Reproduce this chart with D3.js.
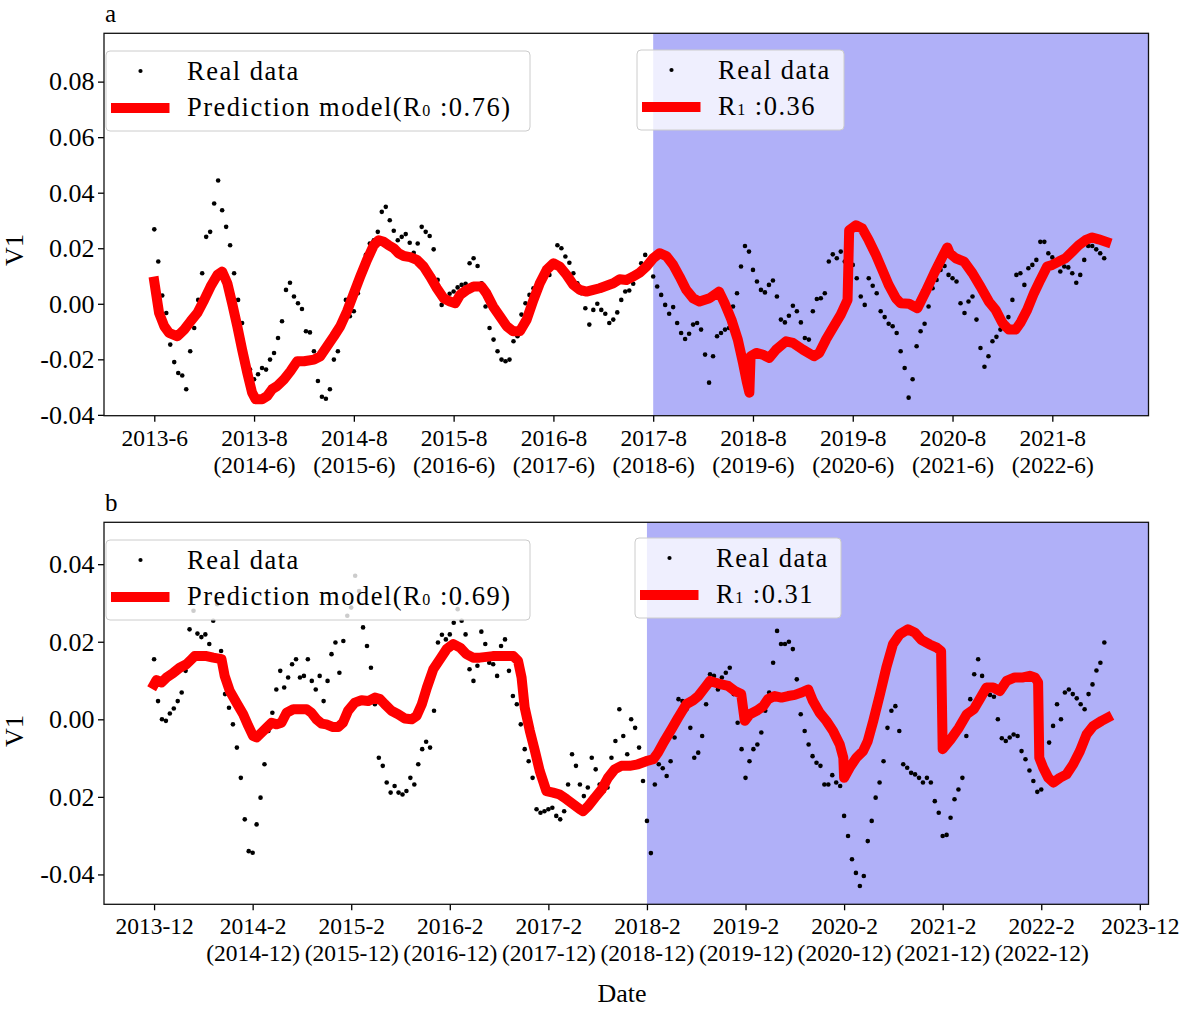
<!DOCTYPE html>
<html>
<head>
<meta charset="utf-8">
<script src="https://cdn.jsdelivr.net/npm/d3@7"></script>
<style>
body{margin:0;background:#fff;}
svg text{font-family:"Liberation Serif","Times New Roman",serif;fill:#000;}
</style>
</head>
<body>
<div id="container"></div>
<script>
// panel a : weekly real values, index 0 = first tick
var realA = [0.0268,0.0152,0.003,-0.0033,-0.0147,-0.021,-0.0249,-0.0258,-0.0308,-0.0171,
  -0.0087,0.0014,0.011,0.0241,0.0259,0.0361,0.0444,0.0337,0.0277,0.0211,
  0.011,0.0014,-0.0069,-0.0201,-0.0237,-0.0272,-0.0254,-0.0231,-0.0237,-0.0201,
  -0.0177,-0.0123,-0.0063,0.005,0.0076,0.0026,0.0002,-0.0019,-0.0099,-0.0103,
  -0.0171,-0.0278,-0.0335,-0.0342,-0.0308,-0.0201,-0.0171,-0.0075,0.0014,-0.0045,
  -0.0027,0.0038,0.0104,0.0176,0.0217,0.0229,0.0259,0.0331,0.0349,0.0301,
  0.0263,0.0229,0.0241,0.0251,0.022,0.0184,0.0217,0.0277,0.0259,0.0244,
  0.0196,0.0086,-0.0004,0.0014,0.0036,0.0044,0.0059,0.0068,0.0072,0.0146,
  0.0164,0.0136,0.0074,-0.001,-0.0087,-0.0129,-0.0171,-0.0201,-0.0207,-0.0201,
  -0.0135,-0.0117,-0.0039,0.0002,0.0032,0.0056,0.0074,0.0086,0.0098,0.0104,
  0.0134,0.0211,0.02,0.017,0.0148,0.011,0.0074,0.0038,-0.0016,-0.0075,
  -0.0022,0,-0.0022,-0.0036,-0.0069,-0.0057,-0.0031,0.0014,0.0044,0.0048,
  0.0072,0.0104,0.0146,0.0176,0.0152,0.0098,0.0062,0.0032,-0.0004,-0.0036,
  -0.0012,-0.0069,-0.0105,-0.0127,-0.0108,-0.0075,-0.0069,-0.0093,-0.0183,-0.0284,
  -0.0189,-0.0117,-0.0105,-0.0093,-0.0087,-0.001,0.0038,0.0134,0.0208,0.0188,
  0.0122,0.008,0.005,0.0041,0.0068,0.0084,0.0026,-0.0057,-0.0067,-0.0043,
  -0.0007,-0.0027,-0.0067,-0.0123,-0.0129,-0.0027,0.0017,0.002,0.0038,0.0152,
  0.0178,0.0164,0.0188,0.0152,0.0146,0.014,0.0092,0.0026,-0.0004,0.0092,
  0.0065,0.0038,-0.0027,-0.0048,-0.0072,-0.0081,-0.0105,-0.0171,-0.0231,-0.0338,
  -0.0272,-0.0153,-0.0099,-0.0072,-0.001,0.0056,0.0086,0.0122,0.0136,0.0104,
  0.0092,0.008,0.0002,-0.0033,0.0008,0.0026,-0.0057,-0.0159,-0.0227,-0.0189,
  -0.0135,-0.0119,-0.0093,-0.0063,-0.0048,0.0014,0.0104,0.011,0.0068,0.0128,
  0.014,0.0158,0.0223,0.0223,0.0182,0.0167,0.0152,0.0116,0.0134,0.0131,
  0.011,0.0076,0.0104,0.0158,0.0208,0.0208,0.0196,0.0182,0.0164];

// prediction model a : [index, value]
var predA = [[0,0.008],[1.2,-0.0033],[2.5,-0.0081],[3.7,-0.0105],[5.8,-0.0117],[7.5,-0.0093],[9.1,-0.0063],
  [10.8,-0.0033],[12.5,0.0014],[14.1,0.0062],[15.8,0.0104],[17,0.0116],[18.3,0.0074],[19.5,0.0002],
  [20.8,-0.0081],[22,-0.0165],[23.3,-0.0249],[24.5,-0.032],[25.4,-0.0344],[27,-0.0344],[28.3,-0.0332],
  [29.5,-0.0308],[30.8,-0.0296],[32.5,-0.0272],[34.1,-0.0243],[35.8,-0.0207],[37.5,-0.0207],[40,-0.0201],
  [41.6,-0.0189],[43.3,-0.0153],[45,-0.0117],[46.6,-0.0081],[48.3,-0.0027],[50,0.0038],[51.6,0.0098],
  [53.3,0.0158],[55,0.0211],[56.2,0.0229],[57.5,0.0223],[58.7,0.0211],[60,0.02],[61.2,0.0182],
  [62.5,0.0172],[64.1,0.0168],[65.8,0.0158],[67.5,0.0134],[69.1,0.0098],[70.8,0.0056],[72.5,0.002],
  [74.1,0.0008],[75.4,0.0002],[76.6,0.0032],[78.3,0.005],[80,0.0062],[82,0.0062],[83.2,0.0038],
  [84.9,-0.001],[86.6,-0.0045],[88.3,-0.0081],[89.9,-0.0099],[91.6,-0.0099],[93.3,-0.0057],[95,0.0014],
  [96.6,0.0074],[98.3,0.0122],[100,0.0146],[101.6,0.0134],[103.3,0.0104],[105,0.0068],[106.6,0.005],
  [108.3,0.0044],[110,0.005],[111.6,0.0056],[113.3,0.0065],[115,0.0074],[116.6,0.0088],[118.3,0.0086],
  [120,0.0098],[121.6,0.0112],[123.3,0.0134],[125,0.0164],[126.6,0.0182],[128.3,0.0172],[130,0.014],
  [131.6,0.0098],[133.3,0.005],[135,0.002],[136.6,0.0008],[139.1,0.002],[141.5,0.0044],[142.9,0.0002],
  [144.6,-0.0057],[146.2,-0.0129],[147.5,-0.0213],[148.5,-0.0284],[149.1,-0.032],[149.4,-0.0189],
  [150.8,-0.0177],[152.4,-0.0183],[154.1,-0.0195],[155.8,-0.0165],[158.3,-0.0135],[160,-0.0141],
  [162.5,-0.0165],[165.3,-0.0189],[166.6,-0.0177],[168.3,-0.0129],[170,-0.0087],[172,-0.0039],
  [173.7,0.0014],[174.1,0.0265],[175.8,0.0283],[177.4,0.0271],[179,0.0229],[180.8,0.0176],[182.4,0.0122],
  [184,0.0068],[185.8,0.002],[187,0.0002],[189.1,0],[191.2,-0.0016],[193.3,0.0045],[195.4,0.011],
  [197.5,0.017],[198.7,0.0203],[199.3,0.0182],[200.8,0.0164],[202.9,0.0152],[205,0.011],[207,0.0062],
  [209.1,0.0008],[210.8,-0.0022],[212.5,-0.0069],[214.1,-0.0093],[215.8,-0.0093],[217,-0.0069],
  [218.7,-0.0022],[220.4,0.0038],[222,0.0086],[223.7,0.0134],[225,0.014],[226.6,0.0152],[228.3,0.0164],
  [230,0.0188],[231.6,0.0211],[233.3,0.0229],[235,0.0239],[236.6,0.0232],[238.5,0.0223]];

var ticksA = ["2013-6","2013-8","2014-8","2015-8","2016-8","2017-8","2018-8","2019-8","2020-8","2021-8"];
var ticksA2 = ["","(2014-6)","(2015-6)","(2016-6)","(2017-6)","(2018-6)","(2019-6)","(2020-6)","(2021-6)","(2022-6)"];
var yTicksA = [-0.04,-0.02,0,0.02,0.04,0.06,0.08];
var yLabelsA = ["-0.04","-0.02","0.00","0.02","0.04","0.06","0.08"];
var legendA0 = ["Prediction model(R","0"," :0.76)"];
var legendA1 = ["R","1"," :0.36"];

// panel b
var realB = [0.0155,0.0047,0,-0.0004,0.0015,0.0028,0.0047,0.0069,0.0125,0.0232,
  0.028,0.0221,0.0212,0.0219,0.0194,0.0254,0.0297,0.0176,0.0065,0.003,
  -0.0013,-0.0073,-0.0151,-0.0258,-0.034,-0.0344,-0.0271,-0.0202,-0.0116,-0.003,
  0.0017,0.0077,0.0125,0.0082,0.0108,0.0142,0.0155,0.0108,0.0112,0.0155,
  0.0099,0.0077,0.0112,0.0047,0.0099,0.0168,0.0198,0.012,0.0202,0.0267,
  0.0288,0.037,0.0331,0.0237,0.0189,0.0133,0.0039,-0.0099,-0.012,-0.0163,
  -0.0189,-0.0172,-0.0189,-0.0194,-0.0185,-0.0151,-0.0168,-0.0116,-0.0077,-0.0058,
  -0.0073,0.0022,0.0198,0.0218,0.0206,0.0219,0.0249,0.0284,0.0254,0.0219,
  0.0129,0.0099,0.0138,0.0226,0.0194,0.0146,0.0142,0.0112,0.0189,0.0206,
  0.0125,0.006,0.0039,-0.0013,-0.0077,-0.0108,-0.0151,-0.0232,-0.0241,-0.0237,
  -0.0232,-0.0228,-0.0249,-0.0258,-0.0237,-0.0168,-0.009,-0.012,-0.0168,-0.0198,
  -0.0176,-0.0099,-0.0129,-0.0168,-0.0185,-0.0176,-0.0099,-0.0056,0.0026,-0.0043,
  -0.009,0,-0.0022,-0.0073,-0.0159,-0.0262,-0.0345,-0.0168,-0.0116,-0.0126,
  -0.0146,-0.0108,-0.0047,0.0052,0.0047,0.0026,-0.0022,-0.0099,-0.0086,-0.0043,
  0.0039,0.0116,0.0112,0.0077,0.0108,0.012,0.0133,0.0065,-0.0009,-0.0077,
  -0.0151,-0.0108,-0.0077,-0.0065,-0.0034,0.0022,0.0069,0.0146,0.0228,0.0194,
  0.0194,0.02,0.0181,0.0103,0.0013,-0.003,-0.0065,-0.0095,-0.0112,-0.012,
  -0.0168,-0.0168,-0.0144,-0.0163,-0.0172,-0.0249,-0.0301,-0.0361,-0.0396,-0.043,
  -0.0404,-0.0314,-0.0262,-0.0202,-0.0163,-0.0108,-0.0022,0.0022,0.0034,-0.003,
  -0.0116,-0.0125,-0.0138,-0.0142,-0.0151,-0.0163,-0.0151,-0.0163,-0.0211,-0.0241,
  -0.0301,-0.0298,-0.0254,-0.0206,-0.0181,-0.0151,-0.0043,0.0052,0.0116,0.0155,
  0.0112,0.0066,0.0063,0.0058,0,-0.0049,-0.0056,-0.0047,-0.0039,-0.0043,
  -0.0082,-0.0103,-0.0132,-0.0159,-0.0187,-0.0181,-0.0133,-0.006,-0.0017,0.0039,
  0,0.0069,0.0077,0.0065,0.0054,0.0039,0.0026,0.0065,0.009,0.0126,
  0.0146,0.0198];

var predB = [[0,0.009],[0.6,0.0101],[1.9,0.0095],[3.2,0.0108],[4.9,0.012],[6.5,0.0133],[8.2,0.0142],
  [9.5,0.0155],[10.3,0.0163],[13.3,0.0163],[15,0.0159],[17.1,0.0155],[17.9,0.0112],[19.2,0.0073],
  [20.9,0.0043],[22.6,0.0013],[23.9,-0.0017],[25.1,-0.0043],[26,-0.0047],[27.3,-0.0034],[28.5,-0.0022],
  [29.8,-0.0009],[31.1,-0.0013],[32.3,-0.0009],[33.6,0.0017],[35.3,0.0026],[38.7,0.0026],[39.9,0.0017],
  [41.2,0],[42.5,-0.0011],[43.7,-0.0013],[45.4,-0.002],[46.7,-0.002],[47.9,-0.0009],[49.2,0.0022],
  [50.9,0.0043],[52.6,0.0049],[54.3,0.0047],[56,0.0056],[57.3,0.0052],[58.5,0.0039],[60.2,0.0022],
  [61.9,0.0013],[63.6,0.0002],[65.3,0],[66.6,0.0009],[67.9,0.0039],[69.2,0.0082],[70.8,0.0129],
  [72.5,0.0155],[74.2,0.0181],[75.9,0.0194],[77.6,0.0185],[79.2,0.0168],[80.9,0.0159],[82.6,0.0159],
  [84.3,0.0161],[85.9,0.0163],[91.1,0.0163],[92.3,0.0151],[93.2,0.0108],[94,0.003],[95.3,-0.003],
  [96.6,-0.0082],[97.8,-0.0133],[99.5,-0.0185],[101.2,-0.0189],[102.9,-0.0194],[104.6,-0.0206],
  [106.3,-0.0219],[108,-0.0232],[108.8,-0.0237],[110.1,-0.0224],[111.8,-0.0202],[113.5,-0.0181],
  [115.1,-0.0151],[116.8,-0.0129],[118.5,-0.012],[120.6,-0.012],[122.7,-0.0116],[124.8,-0.0108],
  [126.6,-0.0103],[127.8,-0.0086],[129.3,-0.0058],[131.2,-0.0026],[132.9,0.0004],[135,0.0039],
  [136.7,0.0049],[138,0.006],[139.7,0.0082],[141,0.0099],[142.2,0.0095],[143.9,0.009],[145.6,0.0086],
  [147.3,0.0073],[148.9,0.0065],[149.8,-0.0004],[151.1,0.0013],[152.8,0.0022],[154.5,0.0034],
  [155.7,0.0052],[157.4,0.006],[159.1,0.0056],[160.8,0.006],[162.5,0.0063],[164.2,0.0069],[165.9,0.0077],
  [167.1,0.0047],[168.8,0.0017],[170.5,-0.0004],[172.2,-0.003],[173.9,-0.0065],[174.8,-0.0099],
  [175,-0.0151],[176.4,-0.0125],[178.1,-0.0099],[179.8,-0.0082],[181,-0.0056],[182.4,-0.0004],
  [184.1,0.0065],[185.7,0.0133],[187.4,0.0194],[189.1,0.0219],[191.2,0.0232],[192.9,0.0224],
  [194.6,0.0205],[196.7,0.0193],[198.5,0.0185],[199.6,0.0176],[200,-0.0077],[202,-0.0052],
  [204.1,-0.0022],[206.1,0.0013],[207.9,0.0026],[209.4,0.0052],[211.1,0.0082],[212.8,0.0082],
  [214.5,0.0073],[216.2,0.0099],[218.3,0.0108],[220.4,0.0108],[222.1,0.0112],[223.4,0.0108],
  [224.2,0.0095],[224.5,-0.0099],[225.5,-0.0125],[226.8,-0.0151],[228.1,-0.0163],[229.7,-0.0151],
  [231.4,-0.0142],[233.1,-0.0116],[234.8,-0.0082],[236.5,-0.0039],[238.2,-0.0017],[240.3,-0.0004],
  [241.8,0.0004]];

var ticksB = ["2013-12","2014-2","2015-2","2016-2","2017-2","2018-2","2019-2","2020-2","2021-2","2022-2","2023-12"];
var ticksB2 = ["","(2014-12)","(2015-12)","(2016-12)","(2017-12)","(2018-12)","(2019-12)","(2020-12)","(2021-12)","(2022-12)",""];
var yTicksB = [-0.04,-0.02,0,0.02,0.04];
var yLabelsB = ["-0.04","0.02","0.00","0.02","0.04"];
var legendB0 = ["Prediction model(R","0"," :0.69)"];
var legendB1 = ["R","1"," :0.31"];

var tickStep = 25;     // samples between x ticks
var splitIndex = 125;  // start of shaded period

var width = 1188, height = 1009;
var left = 104, right = 1148.5;

var svg = d3.select("#container").append("svg")
  .attr("width", width)
  .attr("height", height);

var panels = [
  {name:"a", real:realA, pred:predA, ticks:ticksA, ticks2:ticksA2, yTicks:yTicksA, yLabels:yLabelsA,
   top:33.3, bottom:415.7, xDom:[-12.6,249.1], yDom:[-0.0403,0.0974], ylabY:250,
   leg0:{x:106,y:51,w:424,h:80,txt:legendA0}, leg1:{x:637,y:50,w:207,h:80,txt:legendA1}},
  {name:"b", real:realB, pred:predB, ticks:ticksB, ticks2:ticksB2, yTicks:yTicksB, yLabels:yLabelsB,
   top:522.3, bottom:904.3, xDom:[-12.7,252.2], yDom:[-0.0477,0.0508], ylabY:731,
   leg0:{x:106,y:540,w:424,h:80,txt:legendB0}, leg1:{x:635,y:538,w:206,h:80,txt:legendB1}}
];

panels.forEach(drawPanel);

svg.append("text")
  .attr("x", 622).attr("y", 1002)
  .attr("text-anchor", "middle")
  .style("font-size", "26px")
  .text("Date");

function drawPanel(p){
  var x = d3.scaleLinear().domain(p.xDom).range([left, right]);
  var y = d3.scaleLinear().domain(p.yDom).range([p.bottom, p.top]);
  var g = svg.append("g");

  // shaded prediction period
  g.append("rect")
    .attr("x", x(splitIndex)).attr("y", p.top)
    .attr("width", right - x(splitIndex)).attr("height", p.bottom - p.top)
    .attr("fill", "#b0b0f8");

  g.append("g").selectAll("circle")
    .data(p.real)
    .enter()
    .append("circle")
      .attr("cx", function(d,i){ return x(i); })
      .attr("cy", function(d){ return y(d); })
      .attr("r", 2.3)
      .attr("fill", "#000");

  var line = d3.line()
    .x(function(d){ return x(d[0]); })
    .y(function(d){ return y(d[1]); });

  g.append("path")
    .datum(p.pred)
    .attr("d", line)
    .attr("fill", "none")
    .attr("stroke", "#ff0000")
    .attr("stroke-width", 10)
    .attr("stroke-linejoin", "round")
    .attr("stroke-linecap", "square");

  // x axis with two-line labels
  var xAxis = d3.axisBottom(x)
    .tickValues(p.ticks.map(function(d,i){ return i*tickStep; }))
    .tickSize(6)
    .tickFormat(function(d,i){ return p.ticks[i]; });
  var gx = g.append("g")
    .attr("transform", "translate(0," + p.bottom + ")")
    .call(xAxis);
  gx.select(".domain").remove();
  gx.selectAll(".tick line").attr("stroke", "#000").attr("stroke-width", 1.3);
  gx.selectAll(".tick text").each(function(d,i){
    var t = d3.select(this).text(null).attr("dy", null).attr("y", null)
      .style("font-size", "23.5px").attr("fill", "#000");
    t.append("tspan").attr("x", 0).attr("y", 30).text(p.ticks[i]);
    t.append("tspan").attr("x", 0).attr("y", 57).text(p.ticks2[i]);
  });

  var yAxis = d3.axisLeft(y)
    .tickValues(p.yTicks)
    .tickSize(6)
    .tickPadding(3.5)
    .tickFormat(function(d,i){ return p.yLabels[i]; });
  var gy = g.append("g")
    .attr("transform", "translate(" + left + ",0)")
    .call(yAxis);
  gy.select(".domain").remove();
  gy.selectAll(".tick line").attr("stroke", "#000").attr("stroke-width", 1.3);
  gy.selectAll(".tick text").style("font-size", "26px").attr("fill", "#000");

  g.append("rect")
    .attr("x", left).attr("y", p.top)
    .attr("width", right - left).attr("height", p.bottom - p.top)
    .attr("fill", "none")
    .attr("stroke", "#111")
    .attr("stroke-width", 1.3);

  g.append("text")
    .attr("transform", "translate(23," + p.ylabY + ") rotate(-90)")
    .attr("text-anchor", "middle")
    .style("font-size", "26px")
    .text("V1");

  g.append("text")
    .attr("x", 105).attr("y", p.top - 11.5)
    .style("font-size", "25px")
    .text(p.name);

  drawLegend(p.leg0);
  drawLegend(p.leg1);
}

function drawLegend(L){
  var lg = svg.append("g").attr("transform", "translate(" + L.x + "," + L.y + ")");
  lg.append("rect")
    .attr("width", L.w).attr("height", L.h)
    .attr("rx", 4)
    .attr("fill", "#fff").attr("fill-opacity", 0.8)
    .attr("stroke", "#ccc");
  lg.append("circle").attr("cx", 34.5).attr("cy", 20).attr("r", 2.1).attr("fill", "#000");
  lg.append("text")
    .attr("x", 81).attr("y", 29)
    .style("font-size", "26.5px").style("letter-spacing", "1.5px")
    .text("Real data");
  lg.append("line")
    .attr("x1", 5).attr("x2", 63.5).attr("y1", 57).attr("y2", 57)
    .attr("stroke", "#ff0000").attr("stroke-width", 10);
  var t = lg.append("text")
    .attr("x", 81).attr("y", 65)
    .style("font-size", "26.5px").style("letter-spacing", "1.5px");
  t.append("tspan").text(L.txt[0]);
  t.append("tspan").style("font-size", "16px").text(L.txt[1]);
  t.append("tspan").text(L.txt[2]);
}
</script>
</body>
</html>
